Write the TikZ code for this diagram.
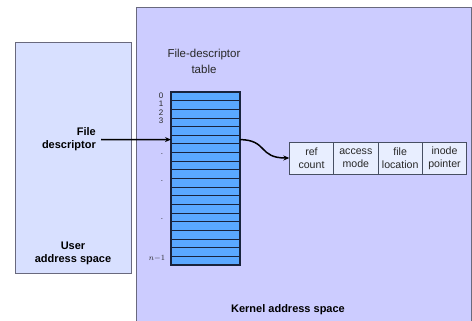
\documentclass[tikz,border=0pt]{standalone}
\usepackage{fontspec}
\setmainfont{Liberation Sans}
\usetikzlibrary{arrows.meta}
\definecolor{kernelfill}{RGB}{204,204,255}
\definecolor{userfill}{RGB}{216,224,255}
\definecolor{boxline}{RGB}{105,105,125}
\definecolor{rowfill}{RGB}{90,168,255}
\definecolor{rowline}{RGB}{25,35,60}
\definecolor{recfill}{RGB}{232,238,255}
\definecolor{txtgrey}{RGB}{40,40,40}
\tikzset{
  rowcell/.style={draw=rowline, line width=0.8pt, fill=rowfill, minimum width=69pt, minimum height=8.65pt, inner sep=0pt, outer sep=0pt},
  reccell/.style={draw=rowline!80, line width=0.7pt, fill=recfill, minimum width=44.35pt, minimum height=32pt, inner sep=0pt, outer sep=0pt, align=center, font=\fontsize{10.6}{12.7}\selectfont, text=txtgrey},
  boldlbl/.style={font=\bfseries\fontsize{11}{13}\selectfont, align=center, inner sep=0pt},
  idx/.style={font=\fontsize{8}{8}\selectfont, inner sep=0pt, text=txtgrey},
  arr/.style={line width=1.5pt, -{Stealth[length=6pt,width=5pt]}},
}
\begin{document}
\begin{tikzpicture}[x=1pt,y=-1pt]
\useasboundingbox (0,0) rectangle (472,321);
% kernel space
\draw[boxline, line width=1pt, fill=kernelfill] (136,7.3) rectangle (471,340);
% user space
\draw[boxline, line width=1pt, fill=userfill] (15.5,43) rectangle (131,273);
\node[boldlbl] (user) at (73,253.5) {User\\address space};
\node[boldlbl] (kernel) at (288,310) {Kernel address space};
\node[align=center, font=\fontsize{11.5}{16}\selectfont, text=txtgrey, inner sep=0pt] (fdt) at (204,61) {File-descriptor\\table};
% table rows
\foreach \i in {0,...,19}{
  \node[rowcell] (r\i) at (205.5,{92+8.65*\i+4.325}) {};
}
\draw[rowline, line width=1.3pt] (r0.north west) rectangle (r19.south east);
% index labels
\node[idx] (i0) at (161,95.5) {0};
\node[idx] (i1) at (161,104) {1};
\node[idx] (i2) at (161,112.5) {2};
\node[idx] (i3) at (161,121) {3};
\node[idx] (d1) at (162,154) {.};
\node[idx] (d2) at (162,181) {.};
\node[idx] (d3) at (162,219) {.};
\node[idx] (inm) at (157,258) {$n{-}1$};
% file descriptor label
\node[boldlbl, align=right, anchor=east] (fd) at (96,139.5) {File\\descriptor};
% record
\node[reccell] (c1) at (311.5,158) {ref\\count};
\node[reccell] (c2) at (355.85,158) {access\\mode};
\node[reccell] (c3) at (400.2,158) {file\\location};
\node[reccell] (c4) at (444.55,158) {inode\\pointer};
% arrows
\coordinate (fdstart) at ([xshift=5pt]fd.east);
\draw[arr] (fdstart) -- (r5.west);
\draw[arr] (r5.east) .. controls (268,140) and (258,158) .. (c1.west);
\end{tikzpicture}
\end{document}
